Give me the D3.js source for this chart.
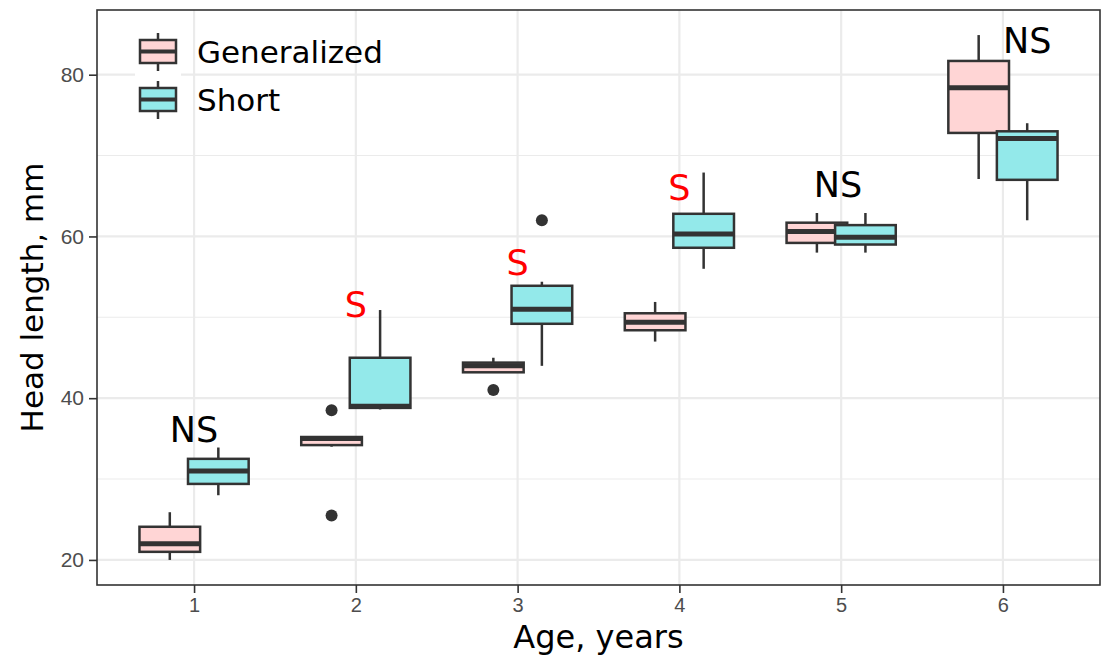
<!DOCTYPE html>
<html>
<head>
<meta charset="utf-8">
<script src="https://cdn.jsdelivr.net/npm/d3@7"></script>
<style>
  body { margin: 0; background: #fff; }
  svg { display: block; }
</style>
</head>
<body>
<div id="chart"></div>
<script>
// datos
const ages = [1, 2, 3, 4, 5, 6];
const groups = ["Generalized", "Short"];

const genMin = [20.0, 34.0, 43.2, 47.0, 58.0, 67.1];
const genQ1  = [21.0, 34.2, 43.2, 48.4, 59.2, 72.8];
const genMed = [22.0, 35.0, 44.0, 49.4, 60.6, 78.4];
const genQ3  = [24.1, 35.2, 44.4, 50.5, 61.7, 81.7];
const genMax = [25.9, 35.3, 45.0, 51.9, 62.9, 84.9];

const shortMin = [28.0, 38.6, 44.0, 56.0, 58.0, 62.0];
const shortQ1  = [29.4, 38.8, 49.2, 58.6, 59.0, 67.0];
const shortMed = [31.0, 39.0, 51.0, 60.3, 59.9, 72.1];
const shortQ3  = [32.5, 45.0, 53.9, 62.8, 61.4, 73.0];
const shortMax = [33.9, 50.9, 54.4, 67.9, 62.9, 74.0];

const genOutAge = [2, 2, 3];
const genOutVal = [38.5, 25.5, 41.0];
const shortOutAge = [3];
const shortOutVal = [62.0];

const annoText = ["NS", "S", "S", "S", "NS", "NS"];
const annoAge  = [1, 2, 3, 4, 4.98, 6.15];
const annoVal  = [34.6, 50.0, 55.2, 64.5, 64.9, 82.7];

const yTicks = [20, 40, 60, 80];
const yMinor = [30, 50, 70];

// tamaño y margenes
const width = 1106;
const height = 657;
const margin = { top: 10, right: 6, bottom: 72, left: 97 };

const colors = { Generalized: "#ffd5d5", Short: "#93e9ea" };
const dark = "#333333";

const svg = d3.select("#chart").append("svg")
    .attr("width", width)
    .attr("height", height)
    .attr("viewBox", [0, 0, width, height]);

const x = d3.scaleLinear([0.4, 6.6], [margin.left, width - margin.right]);
const y = d3.scaleLinear([16.9, 88.0], [height - margin.bottom, margin.top]);

const dodge = 0.15;
const boxW = x(0.375) - x(0);

// rejilla
const grid = svg.append("g");
grid.selectAll(".minor").data(yMinor).join("line")
    .attr("x1", x.range()[0]).attr("x2", x.range()[1])
    .attr("y1", d => y(d)).attr("y2", d => y(d))
    .attr("stroke", "#ebebeb").attr("stroke-width", 1.1);
grid.selectAll(".major").data(yTicks).join("line")
    .attr("x1", x.range()[0]).attr("x2", x.range()[1])
    .attr("y1", d => y(d)).attr("y2", d => y(d))
    .attr("stroke", "#ebebeb").attr("stroke-width", 2.2);
grid.selectAll(".vmajor").data(ages).join("line")
    .attr("x1", d => x(d)).attr("x2", d => x(d))
    .attr("y1", y.range()[0]).attr("y2", y.range()[1])
    .attr("stroke", "#ebebeb").attr("stroke-width", 2.2);

// cajas
const series = [
    { name: "Generalized", off: -dodge, min: genMin, q1: genQ1, med: genMed, q3: genQ3, max: genMax, oa: genOutAge, ov: genOutVal },
    { name: "Short", off: dodge, min: shortMin, q1: shortQ1, med: shortMed, q3: shortQ3, max: shortMax, oa: shortOutAge, ov: shortOutVal }
];

series.forEach(s => {
    const g = svg.append("g");
    const rows = ages.map((a, i) => ({ a: a, min: s.min[i], q1: s.q1[i], med: s.med[i], q3: s.q3[i], max: s.max[i] }));
    const cx = d => x(d.a + s.off);

    g.selectAll(".wh").data(rows).join("line")
        .attr("x1", cx).attr("x2", cx)
        .attr("y1", d => y(d.min)).attr("y2", d => y(d.max))
        .attr("stroke", dark).attr("stroke-width", 2.5);

    g.selectAll(".box").data(rows).join("rect")
        .attr("x", d => cx(d) - boxW / 2)
        .attr("width", boxW)
        .attr("y", d => y(d.q3))
        .attr("height", d => y(d.q1) - y(d.q3))
        .attr("fill", colors[s.name])
        .attr("stroke", dark).attr("stroke-width", 2.5);

    g.selectAll(".med").data(rows).join("line")
        .attr("x1", d => cx(d) - boxW / 2).attr("x2", d => cx(d) + boxW / 2)
        .attr("y1", d => y(d.med)).attr("y2", d => y(d.med))
        .attr("stroke", dark).attr("stroke-width", 5);

    g.selectAll(".out").data(s.oa.map((a, i) => ({ a: a, v: s.ov[i] }))).join("circle")
        .attr("cx", d => x(d.a + s.off))
        .attr("cy", d => y(d.v))
        .attr("r", 6)
        .attr("fill", dark);
});

// anotaciones
svg.append("g").selectAll("text").data(annoText).join("text")
    .attr("x", (d, i) => x(annoAge[i]))
    .attr("y", (d, i) => y(annoVal[i]))
    .attr("text-anchor", "middle")
    .attr("font-family", "DejaVu Sans")
    .attr("font-size", 35)
    .attr("fill", d => d === "S" ? "#ff0000" : "#000000")
    .text(d => d);

// borde del panel
svg.append("rect")
    .attr("x", x.range()[0]).attr("y", y.range()[1])
    .attr("width", x.range()[1] - x.range()[0])
    .attr("height", y.range()[0] - y.range()[1])
    .attr("fill", "none").attr("stroke", dark).attr("stroke-width", 1.6);

// ejes
svg.append("g")
    .attr("transform", `translate(0,${y.range()[0]})`)
    .call(d3.axisBottom(x).tickValues(ages).tickFormat(d3.format("d")).tickSize(8).tickPadding(5).tickSizeOuter(0))
    .call(g => g.select(".domain").remove())
    .call(g => g.selectAll(".tick line").attr("stroke", dark).attr("stroke-width", 1.6))
    .call(g => g.selectAll(".tick text").attr("fill", "#4d4d4d")
        .attr("font-family", "Liberation Sans, Arial").attr("font-size", 20));

svg.append("g")
    .attr("transform", `translate(${x.range()[0]},0)`)
    .call(d3.axisLeft(y).tickValues(yTicks).tickSize(8).tickPadding(5).tickSizeOuter(0))
    .call(g => g.select(".domain").remove())
    .call(g => g.selectAll(".tick line").attr("stroke", dark).attr("stroke-width", 1.6))
    .call(g => g.selectAll(".tick text").attr("fill", "#4d4d4d")
        .attr("font-family", "Liberation Sans, Arial").attr("font-size", 21));

// titulos de ejes
svg.append("text")
    .attr("x", (x.range()[0] + x.range()[1]) / 2)
    .attr("y", 648)
    .attr("text-anchor", "middle")
    .attr("font-family", "DejaVu Sans")
    .attr("font-size", 32)
    .attr("fill", "#000")
    .text("Age, years");

svg.append("text")
    .attr("transform", `translate(43,${(y.range()[0] + y.range()[1]) / 2}) rotate(-90)`)
    .attr("text-anchor", "middle")
    .attr("font-family", "DejaVu Sans")
    .attr("font-size", 31)
    .attr("fill", "#000")
    .text("Head length, mm");

// leyenda
const legend = svg.append("g").attr("transform", "translate(135,28)");
const keyH = 48;
const item = legend.selectAll("g").data(groups).join("g")
    .attr("transform", (d, i) => `translate(0,${i * keyH})`);
item.append("rect")
    .attr("width", 46).attr("height", keyH)
    .attr("fill", "#fff");
item.append("line")
    .attr("x1", 23).attr("x2", 23).attr("y1", 5).attr("y2", 43)
    .attr("stroke", dark).attr("stroke-width", 2.5);
item.append("rect")
    .attr("x", 5).attr("y", 12).attr("width", 36).attr("height", 23)
    .attr("fill", d => colors[d])
    .attr("stroke", dark).attr("stroke-width", 2.5);
item.append("line")
    .attr("x1", 5).attr("x2", 41).attr("y1", 23.5).attr("y2", 23.5)
    .attr("stroke", dark).attr("stroke-width", 4);
item.append("text")
    .attr("x", 62).attr("y", 24)
    .attr("dy", "0.35em")
    .attr("font-family", "DejaVu Sans")
    .attr("font-size", 31)
    .attr("fill", "#000")
    .text(d => d);
</script>
</body>
</html>
